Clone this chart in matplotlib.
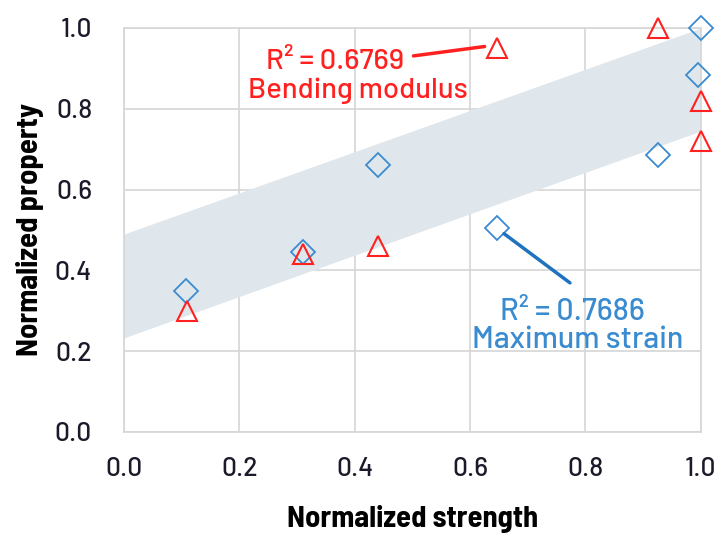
import matplotlib
matplotlib.use("Agg")
import matplotlib.pyplot as plt
import numpy as np

plt.rcParams['font.family'] = ['Barlow', 'DejaVu Sans']
label_family = ['Barlow Semi Condensed', 'DejaVu Sans']

strength_strain = [0.107, 0.31, 0.44, 0.646, 0.925, 0.995, 1.0]
strain = [0.349, 0.445, 0.66, 0.505, 0.685, 0.884, 1.0]
strength_mod = [0.11, 0.31, 0.44, 0.646, 0.925, 1.0, 1.0]
modulus = [0.30, 0.44, 0.46, 0.95, 1.0, 0.82, 0.72]
band_x = [0.0, 1.0]
band_low = [0.233, 0.745]
band_high = [0.49, 1.0]
ticks = [0.0, 0.2, 0.4, 0.6, 0.8, 1.0]

red = '#ff2020'
blue = '#3a8bd0'

fig = plt.figure(figsize=(7.21, 5.33), dpi=100)
ax = fig.add_axes([0.172, 0.1895, 0.8, 0.758])
ax.fill_between(band_x, band_low, band_high, color='#dfe7ec', zorder=1, linewidth=0)
ax.plot(strength_strain, strain, linestyle='none', marker='D', ms=12.5, mfc='none',
        mec=blue, mew=1.3, clip_on=False, zorder=3)
ax.plot(strength_mod, modulus, linestyle='none', marker='^', ms=15, mfc='none',
        mec=red, mew=1.5, clip_on=False, zorder=3)

ax.set_xlim(0, 1)
ax.set_ylim(0, 1)
ax.set_xticks(ticks)
ax.set_yticks(ticks)
ax.set_xticklabels([f'{t:.1f}' for t in ticks], fontsize=19, fontweight='medium', color='#1a1a2a')
ax.set_yticklabels([f'{t:.1f}' for t in ticks], fontsize=19, fontweight='medium', color='#1a1a2a')
ax.tick_params(axis='x', length=0, pad=18)
ax.tick_params(axis='y', length=0, pad=23)
ax.grid(True, color='#d6d6d6', linewidth=1.2, zorder=0)
ax.set_axisbelow(True)
for s in ax.spines.values():
    s.set_color('#d6d6d6')
    s.set_linewidth(1.2)
ax.set_xlabel('Normalized strength', fontsize=22, fontweight='bold', labelpad=17,
              family=label_family)
ax.set_ylabel('Normalized property', fontsize=22, fontweight='bold', labelpad=8,
              family=label_family)

ax.annotate('', xy=(0.63, 0.955), xytext=(0.497, 0.93),
            arrowprops=dict(arrowstyle='-', color=red, lw=2.5), zorder=4)
ax.text(0.366, 0.915, 'R\u00b2 = 0.6769', color=red, fontsize=21, fontweight='medium',
        ha='center', va='center')
ax.text(0.405, 0.845, 'Bending modulus', color=red, fontsize=21, fontweight='medium',
        ha='center', va='center')

ax.annotate('', xy=(0.655, 0.495), xytext=(0.777, 0.365),
            arrowprops=dict(arrowstyle='-', color='#1f72bd', lw=2.5), zorder=4)
ax.text(0.778, 0.297, 'R\u00b2 = 0.7686', color=blue, fontsize=22, fontweight='medium',
        ha='center', va='center')
ax.text(0.787, 0.228, 'Maximum strain', color=blue, fontsize=22, fontweight='medium',
        ha='center', va='center')

fig.savefig('out.png', dpi=100)
